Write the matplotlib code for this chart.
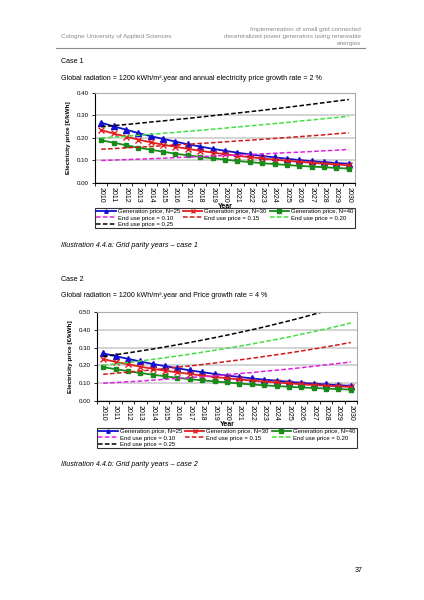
import numpy as np
import matplotlib.pyplot as plt

plt.rcParams['font.family'] = ['Liberation Sans', 'DejaVu Sans']

# years on the x axis
years = [str(y) for y in range(2010, 2031)]

# generation price [EUR/kWh] (same in both cases)
gen_n25 = [0.268, 0.252, 0.237, 0.222, 0.208, 0.196, 0.184, 0.172, 0.162, 0.152, 0.143,
           0.135, 0.127, 0.120, 0.114, 0.108, 0.102, 0.097, 0.093, 0.089, 0.085]
gen_n30 = [0.235, 0.220, 0.206, 0.193, 0.181, 0.170, 0.161, 0.152, 0.143, 0.135, 0.128,
           0.121, 0.115, 0.109, 0.104, 0.099, 0.094, 0.090, 0.086, 0.082, 0.079]
gen_n40 = [0.190, 0.179, 0.168, 0.157, 0.148, 0.139, 0.130, 0.123, 0.116, 0.110, 0.104,
           0.098, 0.093, 0.088, 0.084, 0.080, 0.076, 0.073, 0.070, 0.067, 0.064]

# case 1: end use price, 2 % growth
c1_e10 = [0.100, 0.102, 0.104, 0.106, 0.108, 0.110, 0.113, 0.115, 0.117, 0.120, 0.122,
          0.124, 0.127, 0.129, 0.132, 0.135, 0.137, 0.140, 0.143, 0.146, 0.149]
c1_e15 = [0.150, 0.153, 0.156, 0.159, 0.162, 0.166, 0.169, 0.172, 0.176, 0.179, 0.183,
          0.187, 0.190, 0.194, 0.198, 0.202, 0.206, 0.210, 0.214, 0.219, 0.223]
c1_e20 = [0.200, 0.204, 0.208, 0.212, 0.216, 0.221, 0.225, 0.230, 0.234, 0.239, 0.244,
          0.249, 0.254, 0.259, 0.264, 0.269, 0.275, 0.280, 0.286, 0.291, 0.297]
c1_e25 = [0.250, 0.255, 0.260, 0.265, 0.271, 0.276, 0.282, 0.287, 0.293, 0.299, 0.305,
          0.311, 0.317, 0.323, 0.330, 0.336, 0.343, 0.350, 0.357, 0.364, 0.371]

# case 2: end use price, 4 % growth
c2_e10 = [0.100, 0.104, 0.108, 0.112, 0.117, 0.122, 0.127, 0.132, 0.137, 0.142, 0.148,
          0.154, 0.160, 0.167, 0.173, 0.180, 0.187, 0.195, 0.203, 0.211, 0.219]
c2_e15 = [0.150, 0.156, 0.162, 0.169, 0.175, 0.182, 0.190, 0.197, 0.205, 0.213, 0.222,
          0.231, 0.240, 0.250, 0.260, 0.270, 0.281, 0.292, 0.304, 0.316, 0.329]
c2_e20 = [0.200, 0.208, 0.216, 0.225, 0.234, 0.243, 0.253, 0.263, 0.274, 0.285, 0.296,
          0.308, 0.320, 0.333, 0.346, 0.360, 0.375, 0.390, 0.405, 0.421, 0.438]
c2_e25 = [0.250, 0.260, 0.270, 0.281, 0.292, 0.304, 0.316, 0.329, 0.342, 0.356, 0.370,
          0.385, 0.400, 0.416, 0.433, 0.450, 0.468, 0.487, 0.506, 0.527, 0.548]

W, H = 424, 600
fig = plt.figure(figsize=(W / 100, H / 100), dpi=100)


def fy(y):
    return 1 - y / H


def chart(rect, e10, e15, e20, e25, ymax, legend_top):
    # rect in page pixels: left, top, right, bottom
    l, t, r, b = rect
    ax = fig.add_axes([l / W, fy(b), (r - l) / W, (b - t) / H])
    x = np.arange(len(years))
    h_g25, = ax.plot(x, gen_n25, color='#1010d0', lw=1.3, marker='^', ms=3.8,
                     label='Generation price, N=25')
    h_g30, = ax.plot(x, gen_n30, color='#e02020', lw=1.3, marker='x', ms=3.8, mew=1,
                     label='Generation price, N=30')
    h_g40, = ax.plot(x, gen_n40, color='#1a8a1a', lw=1.3, marker='s', ms=3.4,
                     label='Generation price, N=40')
    h_e10, = ax.plot(x, e10, color='#e020e0', lw=1.1, ls=(0, (3, 1.5)),
                     label='End use price = 0.10')
    h_e15, = ax.plot(x, e15, color='#d01818', lw=1.1, ls=(0, (3, 1.5)),
                     label='End use price = 0.15')
    h_e20, = ax.plot(x, e20, color='#40e040', lw=1.1, ls=(0, (3, 1.5)),
                     label='End use price = 0.20')
    h_e25, = ax.plot(x, e25, color='black', lw=1.1, ls=(0, (3, 1.5)),
                     label='End use price = 0.25')

    ax.set_xlim(-0.5, len(years) - 0.5)
    ax.set_ylim(0, ymax)
    yt = np.arange(0, ymax + 0.001, 0.1)
    ax.set_yticks(yt)
    ax.set_yticklabels(['%.2f' % v for v in yt], fontsize=4.4)
    ax.set_xticks(x)
    ax.set_xticklabels(years, rotation=-90, fontsize=5)
    ax.set_xticks(np.arange(-0.5, len(years)), minor=True)
    ax.tick_params(axis='x', which='major', length=0, pad=3)
    ax.tick_params(axis='x', which='minor', length=2.5, width=0.6, direction='out')
    ax.tick_params(axis='y', length=2.5, width=0.6, pad=2)
    ax.grid(axis='y', color='#cccccc', lw=1.2)
    ax.set_axisbelow(True)
    for s in ['top', 'right']:
        ax.spines[s].set_color('#aaaaaa')
        ax.spines[s].set_linewidth(0.8)
    for s in ['left', 'bottom']:
        ax.spines[s].set_linewidth(0.8)

    ax.set_xlabel('Year', fontsize=5, fontweight='bold', labelpad=0)
    ax.set_ylabel('Electricity price [€/kWh]', fontsize=4.6, fontweight='bold', labelpad=4)

    handles = [h_g25, h_e10, h_e25, h_g30, h_e15, h_g40, h_e20]
    lt = (b - legend_top) / (b - t)
    leg = ax.legend(handles=handles, loc='upper left', bbox_to_anchor=(0, lt, 1.0, 0),
                    mode='expand', ncol=3, fontsize=4.3, frameon=True, fancybox=False,
                    borderaxespad=0, handlelength=3.2, handletextpad=0.4, markerscale=0.65,
                    labelspacing=0.2, borderpad=0.25, columnspacing=0.6)
    leg.get_frame().set_edgecolor('black')
    leg.get_frame().set_linewidth(0.8)
    return ax


chart((95, 93, 355, 183), c1_e10, c1_e15, c1_e20, c1_e25, 0.40, 207.5)
chart((97, 312, 357, 401), c2_e10, c2_e15, c2_e20, c2_e25, 0.50, 427.5)

# page header
grey = '#8a8a8a'
fig.text(61 / W, fy(36.5), 'Cologne University of Applied Sciences', fontsize=4.6,
         color=grey, va='center', ha='left')
for yy, line in [(29.5, 'Implementation of small grid connected'),
                 (36.5, 'decentralized power generators using renewable'),
                 (43.5, 'energies')]:
    fig.text(361 / W, fy(yy), line, fontsize=4.6, color=grey, va='center', ha='right')
fig.add_artist(plt.Line2D([56 / W, 365 / W], [fy(47.7), fy(47.7)], color=grey, lw=0.8))

# body text
fs = 5.1
fig.text(61 / W, fy(61.5), 'Case 1', fontsize=fs, va='center')
fig.text(61 / W, fy(78), 'Global radiation = 1200 kWh/m².year and annual electricity '
         'price growth rate = 2 %', fontsize=fs, va='center')
fig.text(61 / W, fy(246), 'Illustration 4.4.a: Grid parity years \u2013 case 1',
         fontsize=fs, style='italic', va='center')

fig.text(61 / W, fy(279), 'Case 2', fontsize=fs, va='center')
fig.text(61 / W, fy(295.7), 'Global radiation = 1200 kWh/m².year and Price growth rate = 4 %',
         fontsize=fs, va='center')
fig.text(61 / W, fy(465), 'Illustration 4.4.b: Grid parity years \u2013 case 2',
         fontsize=fs, style='italic', va='center')

fig.text(363 / W, fy(570), '37', fontsize=5, ha='right', va='center')

fig.savefig('out.png', dpi=100)
